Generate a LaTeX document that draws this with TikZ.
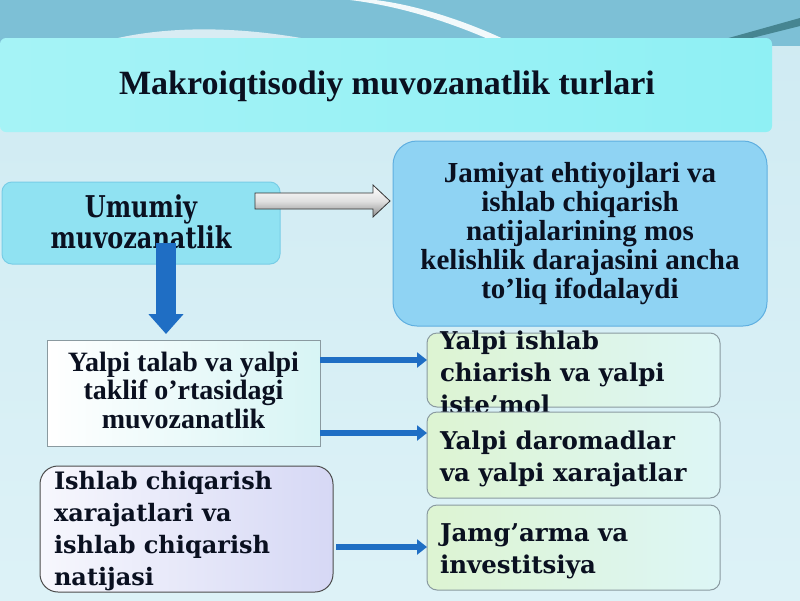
\documentclass[tikz,border=0pt]{standalone}
\usepackage{fontspec}
\setmainfont{Liberation Serif}
\newfontfamily\widefont{DejaVu Serif}
\newfontfamily\umfont[FakeStretch=0.8]{DejaVu Serif}
\usetikzlibrary{arrows.meta,calc}
\definecolor{bgc}{HTML}{DDF2F7}
\definecolor{bandc}{HTML}{7DC0D6}
\definecolor{titlec}{HTML}{8FF0F4}
\definecolor{umc}{HTML}{90E2F2}
\definecolor{umb}{HTML}{78CDE6}
\definecolor{jamc}{HTML}{8FD3F3}
\definecolor{jamb}{HTML}{5FAFE0}
\definecolor{arrc}{HTML}{1F6EC4}
\definecolor{grayb}{HTML}{8A9AA0}
\definecolor{lav}{HTML}{D6D8F5}
\definecolor{greenc}{HTML}{DDF4D2}
\definecolor{aquac}{HTML}{C6F0F0}
\definecolor{txtc}{HTML}{0A1020}
\tikzset{
  boxbase/.style={inner sep=0pt, outer sep=0pt, text=txtc},
  titlebox/.style={boxbase, rounded corners=6pt, left color=titlec!80!white, right color=titlec, minimum width=772pt, minimum height=94pt},
  umbox/.style={boxbase, draw=umb, line width=1pt, fill=umc, rounded corners=10pt, minimum width=278pt, minimum height=82pt, align=center},
  jambox/.style={boxbase, draw=jamb, line width=1pt, fill=jamc, rounded corners=24pt, minimum width=374pt, minimum height=185pt, align=center},
  ytbox/.style={boxbase, draw=grayb, line width=1pt, left color=white, right color=aquac!70!white, minimum width=273pt, minimum height=106pt, align=center},
  isbox/.style={boxbase, draw=black!70, line width=1pt, left color=white!80!lav, right color=lav, rounded corners=18pt, minimum width=293pt, minimum height=126pt},
  rbox/.style={boxbase, draw=grayb, line width=1pt, left color=greenc, right color=aquac!60!white, rounded corners=10pt, minimum width=293pt},
  txtnode/.style={inner sep=0pt, outer sep=0pt, text=txtc, align=left},
  rtxt/.style={txtnode, anchor=west, font=\widefont\fontsize{24.5}{32}\selectfont\bfseries},
  barrow/.style={draw=arrc, line width=6pt, -{Triangle[length=10pt,width=15pt]}},
  downarrow/.style={draw=arrc, line width=20pt, -{Triangle[length=20pt,width=34pt]}},
  grayarrow/.style={draw=black!80, line width=0.8pt, top color=white, bottom color=black!45, middle color=black!12},
}
\begin{document}
\begin{tikzpicture}[x=1pt,y=-1pt]
\useasboundingbox (0,0) rectangle (800,600);
% background
\fill[top color=bgc!85!bandc, bottom color=bgc] (0,0) rectangle (800,600);
\fill[bandc] (0,0) rectangle (800,46);
\fill[white!70!bandc] (90,46) .. controls (140,28) and (230,20) .. (340,46) -- cycle;
\fill[white!90!bandc] (350,0) .. controls (400,6) and (450,22) .. (495,42) -- (510,42) .. controls (460,18) and (410,4) .. (375,0) -- cycle;
\fill[bandc!70!black!80!teal] (700,46) -- (800,18) -- (800,26) -- (720,46) -- cycle;
% title
\node[titlebox] (title) at (386,85) {};
\node[txtnode, font=\fontsize{34}{40}\selectfont\bfseries] (titletxt) at (387,86) {Makroiqtisodiy muvozanatlik turlari};
% boxes
\node[umbox] (um) at (141,223) {};
\node[txtnode, align=center, font=\umfont\fontsize{30}{31}\selectfont\bfseries] (umtxt) at (141,222) {Umumiy\\muvozanatlik};
\node[jambox, font=\fontsize{29}{29}\selectfont\bfseries] (jam) at (580,233.5) {Jamiyat ehtiyojlari va\\ishlab chiqarish\\natijalarining mos\\kelishlik darajasini ancha\\to’liq ifodalaydi};
\node[ytbox] (yt) at (183.5,393) {};
\node[txtnode, align=center, font=\fontsize{28}{28.5}\selectfont\bfseries] (yttxt) at (183.5,390) {Yalpi talab va yalpi\\taklif o’rtasidagi\\muvozanatlik};
\node[isbox] (is) at (186.5,529) {};
\node[txtnode, anchor=west, font=\widefont\fontsize{24}{32}\selectfont\bfseries] (istxt) at (54,531) {Ishlab chiqarish\\xarajatlari va\\ishlab chiqarish\\natijasi};
\node[rbox, minimum height=74pt] (b1) at (573.5,370) {};
\node[rtxt] (b1txt) at (440,372) {Yalpi ishlab\\chiarish va yalpi\\iste’mol};
\node[rbox, minimum height=86pt] (b2) at (573.5,455) {};
\node[rtxt] (b2txt) at (440,459) {Yalpi daromadlar\\va yalpi xarajatlar};
\node[rbox, minimum height=85pt] (b3) at (573.5,547.5) {};
\node[rtxt] (b3txt) at (440,551) {Jamg’arma va\\investitsiya};
% arrows
\coordinate (gas) at (255,201);
\coordinate (gae) at ([xshift=-3pt]jam.west |- gas);
\draw[grayarrow] ($(gas)+(0,-8)$) -- ($(gae)+(-17,-8)$) -- ($(gae)+(-17,-16)$) -- (gae) -- ($(gae)+(-17,16)$) -- ($(gae)+(-17,8)$) -- ($(gas)+(0,8)$) -- cycle;
\coordinate (dstart) at (166,243);
\draw[downarrow] (dstart) -- ([yshift=6pt]dstart |- yt.north);
\draw[barrow] ([yshift=33pt]yt.east) -- ([yshift=33pt]yt.east -| b1.west);
\draw[barrow] ([yshift=-40pt]yt.east) -- ([yshift=-40pt]yt.east -| b2.west);
\draw[barrow] ([yshift=-18pt,xshift=3pt]is.east) -- ([yshift=-18pt]is.east -| b3.west);
\end{tikzpicture}
\end{document}
